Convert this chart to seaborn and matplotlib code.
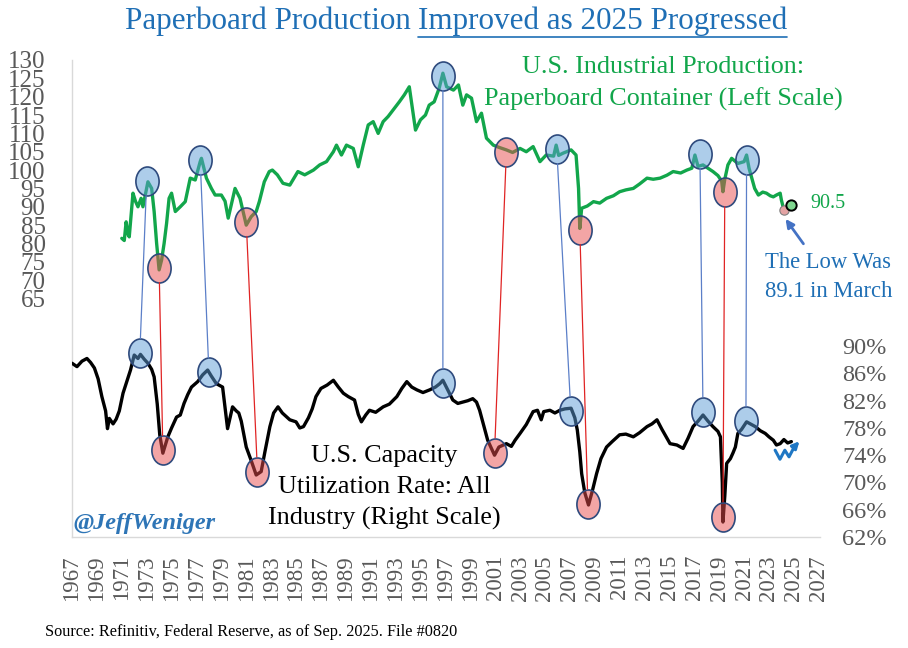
import numpy as np
import pandas as pd
import seaborn as sns
import matplotlib
matplotlib.use("Agg")
import matplotlib.pyplot as plt
from matplotlib.path import Path
from matplotlib.transforms import Affine2D
from matplotlib.patches import ConnectionPatch
from matplotlib.lines import Line2D

# ---- data (decimal years) ----
cap_t = [1968.0, 1968.4, 1968.8, 1969.2, 1969.5, 1969.8, 1970.1, 1970.4, 1970.7, 1970.85,
         1971.0, 1971.3, 1971.55, 1971.8, 1972.1, 1972.4, 1972.7, 1973.0, 1973.3, 1973.5,
         1973.8, 1974.1, 1974.4, 1974.6, 1974.85, 1975.05, 1975.3, 1975.5, 1975.7, 1976.0,
         1976.4, 1976.7, 1977.0, 1977.3, 1977.6, 1978.1, 1978.5, 1978.9, 1979.2, 1979.6,
         1980.1, 1980.3, 1980.5, 1980.7, 1980.9, 1981.2, 1981.4, 1981.6, 1982.0, 1982.4,
         1982.8, 1983.2, 1983.5, 1983.9, 1984.2, 1984.55, 1984.9, 1985.5, 1986.0, 1986.3,
         1986.6, 1987.0, 1987.3, 1987.6, 1988.0, 1988.5, 1989.0, 1989.4, 1989.8, 1990.2,
         1990.7, 1991.0, 1991.25, 1991.6, 1991.9, 1992.4, 1993.0, 1993.5, 1994.1, 1994.5,
         1994.9, 1995.3, 1995.7, 1996.2, 1996.75, 1997.2, 1997.55, 1997.8, 1998.1, 1998.6,
         1999.0, 1999.4, 1999.8, 2000.2, 2000.5, 2000.75, 2001.1, 2001.4, 2001.7, 2001.95,
         2002.3, 2002.9, 2003.3, 2003.6, 2004.0, 2004.5, 2005.05, 2005.4, 2005.7, 2005.9,
         2006.4, 2006.8, 2007.2, 2007.6, 2008.1, 2008.4, 2008.6, 2008.8, 2008.95, 2009.2,
         2009.5, 2009.8, 2010.15, 2010.5, 2010.95, 2011.4, 2012.0, 2012.5, 2013.1, 2013.6,
         2014.2, 2014.6, 2015.0, 2015.4, 2016.05, 2016.6, 2017.1, 2017.5, 2017.9, 2018.3,
         2018.7, 2019.1, 2019.5, 2019.9, 2020.1, 2020.25, 2020.3, 2020.45, 2020.6, 2020.9,
         2021.1, 2021.3, 2021.5, 2021.8, 2022.2, 2022.5, 2022.9, 2023.3, 2023.7, 2024.0,
         2024.35, 2024.6, 2024.9, 2025.2, 2025.5, 2025.8]
cap_v = [87.5, 87.0, 87.8, 88.2, 87.6, 86.8, 85.2, 82.6, 80.5, 77.9,
         79.4, 78.6, 79.3, 80.5, 83.1, 84.8, 86.5, 88.7, 88.2, 88.8,
         88.1, 87.5, 86.6, 85.5, 81.5, 77.0, 74.3, 75.5, 76.7, 78.0,
         79.6, 79.9, 81.6, 82.9, 84.0, 84.8, 85.8, 86.5, 85.6, 84.5,
         84.0, 81.0, 77.9, 79.5, 81.1, 80.5, 80.2, 79.0, 75.2, 73.2,
         71.1, 71.6, 74.5, 78.2, 80.2, 81.1, 80.2, 79.2, 78.9, 78.0,
         78.2, 79.5, 80.8, 82.6, 83.8, 84.3, 85.0, 84.0, 83.1, 82.6,
         82.1, 80.0, 78.9, 79.9, 80.6, 80.3, 81.1, 81.5, 82.6, 83.8,
         84.8, 84.0, 83.6, 83.2, 83.6, 84.0, 84.5, 85.0, 83.9, 82.1,
         81.6, 81.8, 82.0, 82.3, 81.8, 80.6, 78.2, 76.2, 75.0, 74.0,
         75.2, 75.7, 75.3, 76.2, 77.2, 78.5, 80.4, 80.6, 79.2, 80.4,
         80.6, 80.2, 80.6, 80.8, 80.9, 79.5, 77.7, 74.5, 71.3, 68.5,
         66.7, 68.7, 71.3, 73.5, 75.2, 76.0, 77.0, 77.1, 76.7, 77.3,
         78.2, 78.6, 79.2, 77.8, 75.7, 75.5, 75.0, 76.5, 78.2, 79.0,
         79.9, 79.0, 78.2, 77.5, 76.7, 70.0, 64.2, 68.0, 72.8, 73.5,
         74.3, 75.2, 77.2, 77.8, 78.9, 78.6, 78.2, 77.6, 77.2, 76.7,
         76.2, 75.5, 75.7, 76.3, 75.8, 76.0]

pb_t = [1972.0, 1972.2, 1972.35, 1972.5, 1972.6, 1972.9, 1973.1, 1973.3, 1973.55, 1973.7,
        1974.0, 1974.1, 1974.4, 1974.6, 1974.8, 1975.0, 1975.2, 1975.4, 1975.6, 1975.8,
        1976.0, 1976.3, 1976.7, 1977.1, 1977.5, 1977.9, 1978.3, 1978.4, 1978.8, 1979.2,
        1979.5, 1980.0, 1980.3, 1980.55, 1981.1, 1981.5, 1981.75, 1982.0, 1982.4, 1982.8,
        1983.05, 1983.45, 1983.85, 1984.1, 1984.5, 1984.95, 1985.5, 1986.15, 1986.7, 1987.4,
        1987.9, 1988.45, 1989.0, 1989.25, 1989.65, 1990.05, 1990.6, 1991.0, 1991.4, 1991.8,
        1992.2, 1992.6, 1993.0, 1993.4, 1993.9, 1994.3, 1994.7, 1995.1, 1995.35, 1995.6,
        1996.0, 1996.4, 1996.7, 1997.1, 1997.5, 1997.8, 1998.1, 1998.65, 1999.05, 1999.4,
        1999.7, 2000.1, 2000.5, 2000.9, 2001.3, 2001.85, 2002.3, 2002.9, 2003.4, 2004.0,
        2004.5, 2005.05, 2005.6, 2006.1, 2006.7, 2006.9, 2007.1, 2007.45, 2008.1, 2008.5,
        2008.7, 2008.8, 2008.95, 2009.4, 2009.9, 2010.4, 2010.95, 2011.5, 2012.0, 2012.5,
        2013.1, 2013.6, 2014.2, 2014.7, 2015.25, 2015.8, 2016.3, 2016.9, 2017.4, 2017.8,
        2018.05, 2018.3, 2018.7, 2019.1, 2019.5, 2019.9, 2020.2, 2020.3, 2020.45, 2020.7,
        2021.0, 2021.5, 2022.0, 2022.2, 2022.4, 2022.85, 2023.15, 2023.5, 2023.8, 2024.1,
        2024.35, 2024.6, 2024.9, 2025.0, 2025.2, 2025.5, 2025.75]
pb_v = [81.4, 80.8, 85.9, 82.5, 81.8, 93.7, 91.5, 90.0, 92.3, 90.0,
        95.0, 96.8, 95.0, 88.7, 80.0, 72.8, 75.5, 80.0, 85.5, 92.3,
        93.7, 88.7, 90.0, 91.4, 97.8, 97.3, 102.3, 103.2, 97.8, 95.0,
        93.2, 93.2, 91.5, 86.9, 95.0, 92.3, 88.7, 85.0, 87.3, 88.7,
        91.4, 96.8, 99.6, 100.0, 98.7, 96.4, 95.9, 99.6, 98.7, 100.0,
        101.4, 102.3, 105.0, 106.8, 104.1, 106.8, 105.9, 100.9, 106.8, 112.3,
        113.2, 110.0, 113.2, 114.6, 116.8, 118.6, 120.5, 122.7, 116.8, 110.9,
        113.7, 115.0, 117.7, 118.6, 122.3, 126.4, 122.7, 121.8, 123.2, 117.7,
        120.5, 119.6, 113.2, 115.5, 108.7, 106.8, 106.2, 105.5, 104.8, 105.9,
        105.0, 106.4, 102.3, 104.1, 103.8, 106.8, 104.0, 104.6, 105.5, 104.1,
        95.0, 84.1, 89.6, 90.2, 91.4, 91.0, 92.3, 93.0, 94.1, 94.6,
        95.0, 96.2, 97.8, 97.5, 97.8, 98.6, 99.6, 99.2, 100.0, 100.5,
        104.1, 101.0, 101.4, 100.5, 99.6, 98.5, 97.0, 94.1, 97.5, 101.4,
        103.2, 101.8, 102.3, 104.1, 100.5, 95.0, 93.2, 94.0, 93.7, 93.0,
        92.7, 93.2, 93.7, 91.8, 89.1, 90.0, 90.5]

# turning points circled on each series, paired green -> black
pb_peak_t = [1974.0, 1978.3, 1997.8, 2006.95, 2018.45, 2022.2]
pb_peak_v = [97.0, 102.8, 125.6, 105.7, 104.4, 102.8]
cap_peak_t = [1973.45, 1979.0, 1997.8, 2008.08, 2018.7, 2022.15]
cap_peak_v = [89.0, 86.15, 84.6, 80.5, 80.4, 79.05]
pb_trough_t = [1975.0, 1982.0, 2002.9, 2008.8, 2020.45]
pb_trough_v = [73.3, 85.9, 104.9, 83.7, 94.0]
cap_trough_t = [1975.3, 1982.9, 2001.95, 2009.45, 2020.3]
cap_trough_v = [74.75, 71.6, 74.4, 66.9, 65.0]

low_t, low_v = 2025.2, 89.1
last_t, last_v = 2025.75, 90.5

year_labels = list(range(1967, 2028, 2))
left_ticks = list(range(65, 131, 5))
right_ticks = list(range(62, 91, 4))

GREEN = "#12a64b"
BLUE_TXT = "#1f6fb5"
GRAY = "#595959"

sns.set_style("white")
plt.rcParams["font.family"] = ["Liberation Serif", "DejaVu Serif"]

fig = plt.figure(figsize=(9.08, 6.48), dpi=100)
ax = fig.add_axes([72 / 908, 111 / 648, 748 / 908, 477 / 648])
ax2 = ax.twinx()

pb = pd.DataFrame({"t": pb_t, "v": pb_v})
cap = pd.DataFrame({"t": cap_t, "v": cap_v})
sns.lineplot(data=pb, x="t", y="v", ax=ax, color=GREEN, lw=2.4, zorder=2)
sns.lineplot(data=cap, x="t", y="v", ax=ax2, color="black", lw=2.4, zorder=2)

ax.set_xlim(1968.0, 2028.1)
ax.set_ylim(0, 130)
ax2.set_ylim(62, 132)

ax.set_xticks([y + 1.0 for y in year_labels])
ax.set_xticklabels([str(y) for y in year_labels], rotation=90)
ax.set_yticks(left_ticks)
ax.set_yticklabels([str(v) for v in left_ticks])
ax2.set_yticks(right_ticks)
ax2.set_yticklabels([f"{v}%" for v in right_ticks])
ax.set_xlabel("")
ax.set_ylabel("")
ax2.set_ylabel("")

ax.tick_params(axis="y", length=0, pad=19, labelsize=18, labelcolor=GRAY)
ax.tick_params(axis="x", length=0, pad=13, labelsize=16.5, labelcolor=GRAY)
ax2.tick_params(axis="y", length=0, pad=16, labelsize=17.5, labelcolor=GRAY)

for s in ["top", "right"]:
    ax.spines[s].set_visible(False)
for s in ["left", "bottom"]:
    ax.spines[s].set_color("#d9d9d9")
    ax.spines[s].set_linewidth(1)
for s in ax2.spines.values():
    s.set_visible(False)

# ellipse markers for turning points
ell = Path.unit_circle().transformed(Affine2D().scale(0.8, 1.0))
blue_fc = (0.36, 0.61, 0.84, 0.5)
red_fc = (0.91, 0.30, 0.30, 0.5)
edge = "#2e4a7d"
ax.scatter(pb_peak_t, pb_peak_v, marker=ell, s=436, facecolors=[blue_fc], edgecolors=edge, linewidths=1.2, zorder=4)
ax.scatter(pb_trough_t, pb_trough_v, marker=ell, s=436, facecolors=[red_fc], edgecolors=edge, linewidths=1.2, zorder=4)
ax2.scatter(cap_peak_t, cap_peak_v, marker=ell, s=436, facecolors=[blue_fc], edgecolors=edge, linewidths=1.2, zorder=4)
ax2.scatter(cap_trough_t, cap_trough_v, marker=ell, s=436, facecolors=[red_fc], edgecolors=edge, linewidths=1.2, zorder=4)

for (tg, vg, tb, vb) in zip(pb_peak_t, pb_peak_v, cap_peak_t, cap_peak_v):
    con = ConnectionPatch(xyA=(tg, vg), coordsA=ax.transData, xyB=(tb, vb), coordsB=ax2.transData,
                          color="#5b7fc8", lw=0.9, shrinkA=10.5, shrinkB=10.5)
    fig.add_artist(con)
for (tg, vg, tb, vb) in zip(pb_trough_t, pb_trough_v, cap_trough_t, cap_trough_v):
    con = ConnectionPatch(xyA=(tg, vg), coordsA=ax.transData, xyB=(tb, vb), coordsB=ax2.transData,
                          color="#e02424", lw=0.9, shrinkA=10.5, shrinkB=10.5)
    fig.add_artist(con)

# latest point and 2025 low
ax.scatter([low_t], [low_v], s=45, facecolors=["#e3a3a3"], edgecolors="#7f7f7f", linewidths=0.8, zorder=5)
ax.scatter([last_t], [last_v], s=55, facecolors=["#7fd68f"], edgecolors="black", linewidths=1.4, zorder=6)
ax.text(0.987, 0.70, f"{last_v}", transform=ax.transAxes, color=GREEN, fontsize=14.5, va="center", ha="left")
ax.annotate("", xy=(low_t, low_v - 1.8), xytext=(0.98, 0.61), textcoords="axes fraction",
            arrowprops=dict(arrowstyle="-|>", color="#4472c4", lw=2, mutation_scale=12))
ax.text(1.011, 0.545, f"The Low Was\n{low_v} in March", transform=ax.transAxes, color=BLUE_TXT,
        fontsize=16.3, ha="center", va="center", linespacing=1.5)

# series captions
ax.text(0.790, 0.951, "U.S. Industrial Production:\nPaperboard Container (Left Scale)", transform=ax.transAxes,
        color=GREEN, fontsize=18.8, ha="center", va="center", linespacing=1.5)
ax.text(0.418, 0.103, "U.S. Capacity\nUtilization Rate: All\nIndustry (Right Scale)", transform=ax.transAxes,
        color="black", fontsize=18.8, ha="center", va="center", linespacing=1.52, zorder=6)
ax.text(0.002, 0.029, "@JeffWeniger", transform=ax.transAxes, color="#2e75b6", fontsize=17.5,
        fontweight="bold", fontstyle="italic", ha="left", va="center")

# blue squiggle arrow near the latest capacity reading
sq_x = [0.940, 0.9465, 0.953, 0.9586, 0.966]
sq_y = [0.182, 0.163, 0.182, 0.168, 0.190]
ax.plot(sq_x, sq_y, transform=ax.transAxes, color="#1f77c4", lw=2.2, clip_on=False, zorder=6)
ax.annotate("", xy=(0.975, 0.205), xytext=(0.964, 0.186), xycoords="axes fraction",
            arrowprops=dict(arrowstyle="-|>", color="#1f77c4", lw=2.2, mutation_scale=10))

# title with underlined second half
TS = 22.4
t1 = fig.text(0, 1 - 21 / 648, "Paperboard Production", color=BLUE_TXT, fontsize=TS, ha="left", va="center")
t2 = fig.text(0, 1 - 21 / 648, "Improved as 2025 Progressed", color=BLUE_TXT, fontsize=TS, ha="left", va="center")
fig.canvas.draw()
r = fig.canvas.get_renderer()
w1 = t1.get_window_extent(r).width
w2 = t2.get_window_extent(r).width
gap = TS * 0.25 * 100 / 72
total = w1 + gap + w2
x0 = 456 - total / 2
t1.set_x(x0 / 908)
t2.set_x((x0 + w1 + gap) / 908)
uy = 1 - 37 / 648
fig.add_artist(Line2D([(x0 + w1 + gap) / 908, (x0 + total) / 908], [uy, uy], color=BLUE_TXT, lw=1.2))

fig.text(45 / 908, 1 - 632 / 648, "Source: Refinitiv, Federal Reserve, as of Sep. 2025. File #0820",
         fontsize=11.7, color="black", ha="left", va="center")

plt.savefig("out.png", dpi=100)
